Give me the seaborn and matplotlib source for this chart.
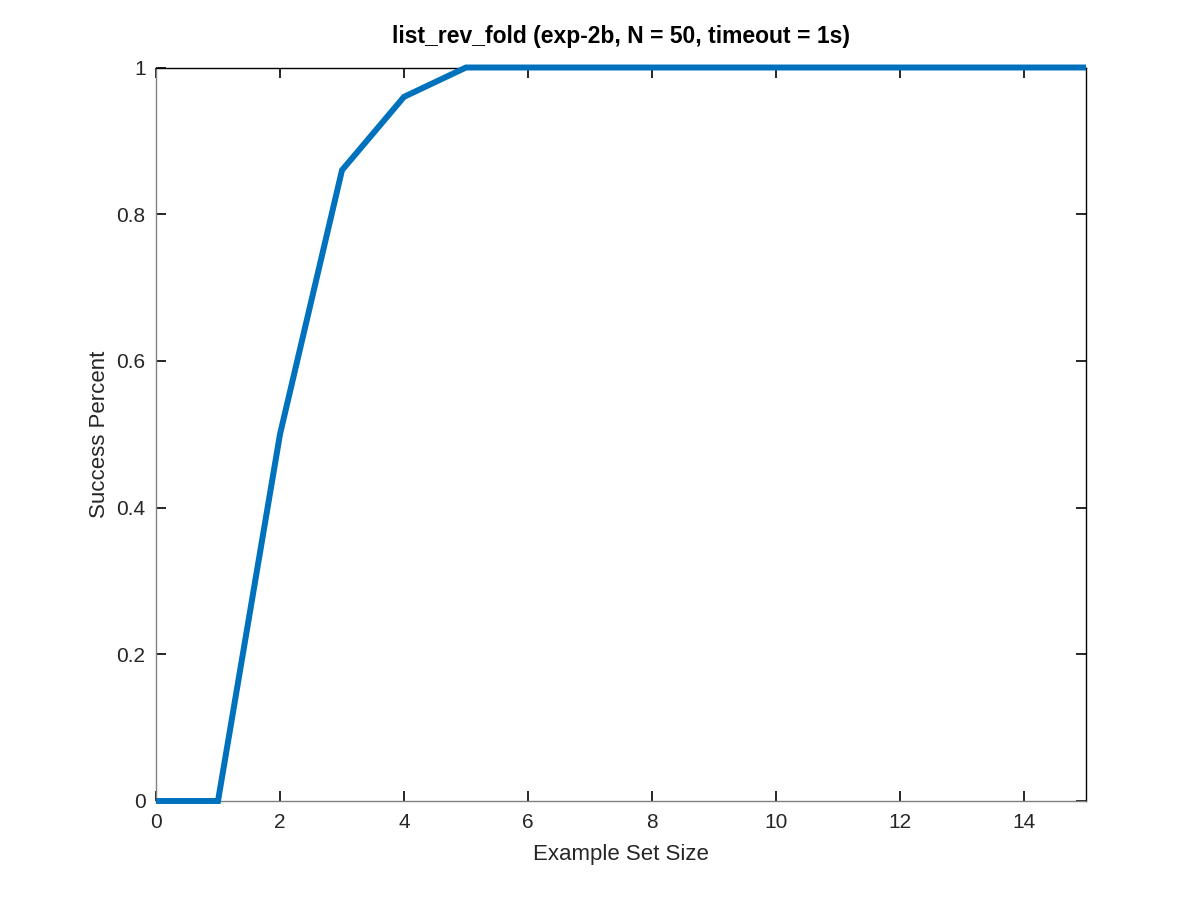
import matplotlib
matplotlib.use("Agg")
import matplotlib.pyplot as plt
import seaborn as sns
import pandas as pd

example_set_size = list(range(0, 16))
success_percent = [0, 0, 0.5, 0.86, 0.96, 1, 1, 1, 1, 1, 1, 1, 1, 1, 1, 1]

TITLE = "list_rev_fold (exp-2b, N = 50, timeout = 1s)"


def main():
    sns.set_theme(style="white")
    plt.rcParams['font.family'] = ['Liberation Sans', 'DejaVu Sans']

    df = pd.DataFrame({"size": example_set_size, "success": success_percent})

    fig = plt.figure(figsize=(12, 9), dpi=100)
    ax = fig.add_axes([0.13, 0.11, 0.775, 0.815])
    sns.lineplot(data=df, x="size", y="success", ax=ax,
                 color="#0072BD", linewidth=4.3, solid_joinstyle="miter",
                 solid_capstyle="butt", clip_on=False, zorder=3)

    ax.set_xlim(0, 15)
    ax.set_ylim(0, 1)
    ax.set_xticks(range(0, 16, 2))
    ax.set_yticks([0, 0.2, 0.4, 0.6, 0.8, 1])
    ax.set_yticklabels(["0", "0.2", "0.4", "0.6", "0.8", "1"])

    for side in ["left", "bottom"]:
        ax.spines[side].set_color("#808080")
    for side in ["top", "right"]:
        ax.spines[side].set_color("black")
    for s in ax.spines.values():
        s.set_linewidth(1.0)
        s.set_visible(True)

    ax.tick_params(direction="in", length=7, width=1.4, color="#262626",
                   top=True, right=True, bottom=True, left=True,
                   labelsize=15, labelcolor="#262626")
    ax.tick_params(axis="x", pad=9)
    ax.tick_params(axis="y", pad=7.5)
    ax.set_xlabel("Example Set Size", fontsize=16, color="#262626", labelpad=8.5)
    ax.set_ylabel("Success Percent", fontsize=16, color="#262626", labelpad=4.5)
    ax.set_title(TITLE, fontsize=16.5, fontweight="bold", pad=17.5, color="black")

    fig.savefig("out.png")
    plt.close(fig)


if __name__ == "__main__":
    main()
